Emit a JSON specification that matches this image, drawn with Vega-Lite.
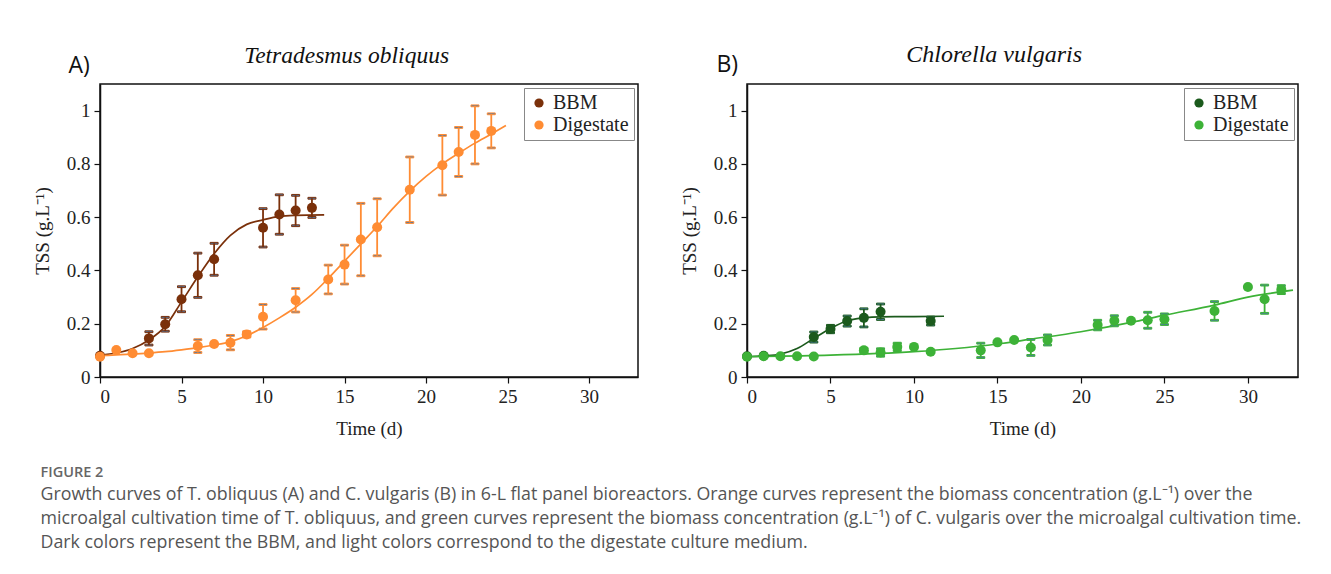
{
  "$schema": "https://vega.github.io/schema/vega-lite/v6.json",
  "background": "white",
  "padding": {"left": 32, "top": 42, "right": 5, "bottom": 5},
  "datasets": {
    "a_pts": [
      {"medium": "BBM", "t": 0, "v": 0.08},
      {"medium": "BBM", "t": 3, "v": 0.145, "lo": 0.12, "hi": 0.17},
      {"medium": "BBM", "t": 4, "v": 0.198, "lo": 0.172, "hi": 0.224},
      {"medium": "BBM", "t": 5, "v": 0.292, "lo": 0.245, "hi": 0.339},
      {"medium": "BBM", "t": 6, "v": 0.382, "lo": 0.299, "hi": 0.465},
      {"medium": "BBM", "t": 7, "v": 0.442, "lo": 0.382, "hi": 0.502},
      {"medium": "BBM", "t": 10, "v": 0.56, "lo": 0.488, "hi": 0.632},
      {"medium": "BBM", "t": 11, "v": 0.61, "lo": 0.536, "hi": 0.684},
      {"medium": "BBM", "t": 12, "v": 0.625, "lo": 0.568, "hi": 0.682},
      {"medium": "BBM", "t": 13, "v": 0.635, "lo": 0.599, "hi": 0.671},
      {"medium": "Digestate", "t": 0, "v": 0.076},
      {"medium": "Digestate", "t": 1, "v": 0.101},
      {"medium": "Digestate", "t": 2, "v": 0.089},
      {"medium": "Digestate", "t": 3, "v": 0.089},
      {"medium": "Digestate", "t": 6, "v": 0.116, "lo": 0.092, "hi": 0.14},
      {"medium": "Digestate", "t": 7, "v": 0.124},
      {"medium": "Digestate", "t": 8, "v": 0.129, "lo": 0.102, "hi": 0.156},
      {"medium": "Digestate", "t": 9, "v": 0.16, "lo": 0.15, "hi": 0.17},
      {"medium": "Digestate", "t": 10, "v": 0.226, "lo": 0.18, "hi": 0.272},
      {"medium": "Digestate", "t": 12, "v": 0.288, "lo": 0.244, "hi": 0.332},
      {"medium": "Digestate", "t": 14, "v": 0.366, "lo": 0.312, "hi": 0.42},
      {"medium": "Digestate", "t": 15, "v": 0.422, "lo": 0.349, "hi": 0.495},
      {"medium": "Digestate", "t": 16, "v": 0.516, "lo": 0.38, "hi": 0.652},
      {"medium": "Digestate", "t": 17, "v": 0.562, "lo": 0.455, "hi": 0.669},
      {"medium": "Digestate", "t": 19, "v": 0.703, "lo": 0.58, "hi": 0.826},
      {"medium": "Digestate", "t": 21, "v": 0.795, "lo": 0.683, "hi": 0.907},
      {"medium": "Digestate", "t": 22, "v": 0.845, "lo": 0.753, "hi": 0.937},
      {"medium": "Digestate", "t": 23, "v": 0.909, "lo": 0.8, "hi": 1.018},
      {"medium": "Digestate", "t": 24, "v": 0.924, "lo": 0.86, "hi": 0.988}
    ],
    "a_fit": [
      {"medium": "BBM", "t": 0, "v": 0.082},
      {"medium": "BBM", "t": 1, "v": 0.09},
      {"medium": "BBM", "t": 2, "v": 0.107},
      {"medium": "BBM", "t": 3, "v": 0.139},
      {"medium": "BBM", "t": 4, "v": 0.19},
      {"medium": "BBM", "t": 5, "v": 0.282},
      {"medium": "BBM", "t": 6, "v": 0.376},
      {"medium": "BBM", "t": 7, "v": 0.463},
      {"medium": "BBM", "t": 8, "v": 0.532},
      {"medium": "BBM", "t": 9, "v": 0.573},
      {"medium": "BBM", "t": 10, "v": 0.59},
      {"medium": "BBM", "t": 11, "v": 0.603},
      {"medium": "BBM", "t": 12, "v": 0.607},
      {"medium": "BBM", "t": 13.75, "v": 0.609},
      {"medium": "Digestate", "t": 0, "v": 0.08},
      {"medium": "Digestate", "t": 1, "v": 0.083},
      {"medium": "Digestate", "t": 2, "v": 0.086},
      {"medium": "Digestate", "t": 3, "v": 0.09},
      {"medium": "Digestate", "t": 4, "v": 0.095},
      {"medium": "Digestate", "t": 5, "v": 0.102},
      {"medium": "Digestate", "t": 6, "v": 0.11},
      {"medium": "Digestate", "t": 7, "v": 0.12},
      {"medium": "Digestate", "t": 8, "v": 0.133},
      {"medium": "Digestate", "t": 9, "v": 0.155},
      {"medium": "Digestate", "t": 10, "v": 0.186},
      {"medium": "Digestate", "t": 11, "v": 0.222},
      {"medium": "Digestate", "t": 12, "v": 0.262},
      {"medium": "Digestate", "t": 13, "v": 0.31},
      {"medium": "Digestate", "t": 14, "v": 0.37},
      {"medium": "Digestate", "t": 15, "v": 0.435},
      {"medium": "Digestate", "t": 16, "v": 0.5},
      {"medium": "Digestate", "t": 17, "v": 0.565},
      {"medium": "Digestate", "t": 18, "v": 0.635},
      {"medium": "Digestate", "t": 19, "v": 0.698},
      {"medium": "Digestate", "t": 20, "v": 0.753},
      {"medium": "Digestate", "t": 21, "v": 0.8},
      {"medium": "Digestate", "t": 22, "v": 0.84},
      {"medium": "Digestate", "t": 23, "v": 0.878},
      {"medium": "Digestate", "t": 24, "v": 0.912},
      {"medium": "Digestate", "t": 24.9, "v": 0.944}
    ],
    "b_pts": [
      {"medium": "BBM", "t": 0, "v": 0.078},
      {"medium": "BBM", "t": 1, "v": 0.08},
      {"medium": "BBM", "t": 4, "v": 0.15, "lo": 0.131, "hi": 0.169},
      {"medium": "BBM", "t": 5, "v": 0.18, "lo": 0.166, "hi": 0.194},
      {"medium": "BBM", "t": 6, "v": 0.21, "lo": 0.191, "hi": 0.229},
      {"medium": "BBM", "t": 7, "v": 0.222, "lo": 0.188, "hi": 0.256},
      {"medium": "BBM", "t": 8, "v": 0.245, "lo": 0.216, "hi": 0.274},
      {"medium": "BBM", "t": 11, "v": 0.21, "lo": 0.195, "hi": 0.225},
      {"medium": "Digestate", "t": 0, "v": 0.076},
      {"medium": "Digestate", "t": 1, "v": 0.078},
      {"medium": "Digestate", "t": 2, "v": 0.078},
      {"medium": "Digestate", "t": 3, "v": 0.078},
      {"medium": "Digestate", "t": 4, "v": 0.077},
      {"medium": "Digestate", "t": 7, "v": 0.1, "lo": 0.092, "hi": 0.108},
      {"medium": "Digestate", "t": 8, "v": 0.092, "lo": 0.078, "hi": 0.106},
      {"medium": "Digestate", "t": 9, "v": 0.113, "lo": 0.099, "hi": 0.127},
      {"medium": "Digestate", "t": 10, "v": 0.113},
      {"medium": "Digestate", "t": 11, "v": 0.095},
      {"medium": "Digestate", "t": 14, "v": 0.1, "lo": 0.073, "hi": 0.127},
      {"medium": "Digestate", "t": 15, "v": 0.13},
      {"medium": "Digestate", "t": 16, "v": 0.139},
      {"medium": "Digestate", "t": 17, "v": 0.111, "lo": 0.081, "hi": 0.141},
      {"medium": "Digestate", "t": 18, "v": 0.139, "lo": 0.12, "hi": 0.158},
      {"medium": "Digestate", "t": 21, "v": 0.195, "lo": 0.177, "hi": 0.213},
      {"medium": "Digestate", "t": 22, "v": 0.211, "lo": 0.192, "hi": 0.23},
      {"medium": "Digestate", "t": 23, "v": 0.211},
      {"medium": "Digestate", "t": 24, "v": 0.213, "lo": 0.183, "hi": 0.243},
      {"medium": "Digestate", "t": 25, "v": 0.217, "lo": 0.197, "hi": 0.237},
      {"medium": "Digestate", "t": 28, "v": 0.248, "lo": 0.213, "hi": 0.283},
      {"medium": "Digestate", "t": 30, "v": 0.338},
      {"medium": "Digestate", "t": 31, "v": 0.292, "lo": 0.239, "hi": 0.345},
      {"medium": "Digestate", "t": 32, "v": 0.328, "lo": 0.313, "hi": 0.343}
    ],
    "b_fit": [
      {"medium": "BBM", "t": 0, "v": 0.076},
      {"medium": "BBM", "t": 1, "v": 0.079},
      {"medium": "BBM", "t": 2, "v": 0.086},
      {"medium": "BBM", "t": 3, "v": 0.107},
      {"medium": "BBM", "t": 4, "v": 0.145},
      {"medium": "BBM", "t": 5, "v": 0.182},
      {"medium": "BBM", "t": 6, "v": 0.211},
      {"medium": "BBM", "t": 7, "v": 0.222},
      {"medium": "BBM", "t": 8, "v": 0.226},
      {"medium": "BBM", "t": 10, "v": 0.227},
      {"medium": "BBM", "t": 11.8, "v": 0.228},
      {"medium": "Digestate", "t": 0, "v": 0.077},
      {"medium": "Digestate", "t": 5, "v": 0.082},
      {"medium": "Digestate", "t": 10, "v": 0.095},
      {"medium": "Digestate", "t": 12.5, "v": 0.107},
      {"medium": "Digestate", "t": 15, "v": 0.124},
      {"medium": "Digestate", "t": 17, "v": 0.142},
      {"medium": "Digestate", "t": 20, "v": 0.17},
      {"medium": "Digestate", "t": 23, "v": 0.205},
      {"medium": "Digestate", "t": 25, "v": 0.232},
      {"medium": "Digestate", "t": 28, "v": 0.27},
      {"medium": "Digestate", "t": 30, "v": 0.3},
      {"medium": "Digestate", "t": 32.7, "v": 0.326}
    ]
  },
  "title": {
    "text": "FIGURE 2",
    "subtitle": [
      "Growth curves of T. obliquus (A) and C. vulgaris (B) in 6-L flat panel bioreactors. Orange curves represent the biomass concentration (g.L⁻¹) over the",
      "microalgal cultivation time of T. obliquus, and green curves represent the biomass concentration (g.L⁻¹) of C. vulgaris over the microalgal cultivation time.",
      "Dark colors represent the BBM, and light colors correspond to the digestate culture medium."
    ],
    "orient": "bottom",
    "anchor": "start",
    "frame": "bounds",
    "dx": 8,
    "font": "Open Sans",
    "fontSize": 14.5,
    "fontWeight": 600,
    "color": "#666666",
    "subtitleFont": "Open Sans",
    "subtitleFontSize": 17.8,
    "subtitleColor": "#555555",
    "subtitleLineHeight": 24,
    "subtitlePadding": 6,
    "offset": 27
  },
  "spacing": 40,
  "resolve": {"scale": {"color": "independent", "stroke": "independent"}, "legend": {"color": "independent"}},
  "hconcat": [
    {
      "title": {"text": "A)", "anchor": "start", "frame": "bounds", "font": "Open Sans", "fontSize": 23, "fontWeight": "normal", "color": "#111111", "dx": 36, "dy": 39},
      "resolve": {"scale": {"color": "independent", "stroke": "independent"}, "legend": {"color": "independent"}},
      "vconcat": [
        {
          "title": {"text": "Tetradesmus obliquus", "anchor": "middle", "frame": "bounds", "dx": 11, "font": "Liberation Serif", "fontStyle": "italic", "fontSize": 23.5, "fontWeight": "normal", "color": "#111111", "offset": 17},
          "width": 538,
          "height": 293,
          "layer": [
            {
              "data": {"name": "a_fit"},
              "mark": {"type": "line", "strokeWidth": 1.7, "interpolate": "monotone"},
              "encoding": {
                "x": {"field": "t", "type": "quantitative", "title": "Time (d)", "scale": {"domain": [0, 33], "nice": false}, "axis": {"values": [0, 5, 10, 15, 20, 25, 30]}},
                "y": {"field": "v", "type": "quantitative", "title": "TSS (g.L⁻¹)", "scale": {"domain": [0, 1.1], "nice": false}, "axis": {"values": [0, 0.2, 0.4, 0.6, 0.8, 1], "format": "~g"}},
                "stroke": {"field": "medium", "type": "nominal", "scale": {"range": ["#7a300a", "#ff8c33"]}, "legend": null}
              }
            },
            {
              "data": {"name": "a_pts"},
              "transform": [{"filter": "isValid(datum.lo)"}],
              "mark": {"type": "errorbar", "ticks": {"opacity": 1}, "rule": {"opacity": 1}, "size": 8, "thickness": 1.8},
              "encoding": {
                "x": {"field": "t", "type": "quantitative", "title": "Time (d)"},
                "y": {"field": "lo", "type": "quantitative", "title": "TSS (g.L⁻¹)"},
                "y2": {"field": "hi"},
                "stroke": {"field": "medium", "type": "nominal", "legend": null}
              }
            },
            {
              "data": {"name": "a_pts"},
              "mark": {"type": "point", "filled": true, "size": 100, "opacity": 1, "strokeWidth": 0},
              "encoding": {
                "x": {"field": "t", "type": "quantitative", "title": "Time (d)"},
                "y": {"field": "v", "type": "quantitative", "title": "TSS (g.L⁻¹)"},
                "color": {"field": "medium", "type": "nominal", "scale": {"domain": ["BBM", "Digestate"], "range": ["#7a300a", "#ff8c33"]}, "legend": {"title": null}}
              }
            }
          ]
        }
      ]
    },
    {
      "title": {"text": "B)", "anchor": "start", "frame": "bounds", "font": "Open Sans", "fontSize": 23, "fontWeight": "normal", "color": "#111111", "dx": 37, "dy": 39},
      "resolve": {"scale": {"color": "independent", "stroke": "independent"}, "legend": {"color": "independent"}},
      "vconcat": [
        {
          "title": {"text": "Chlorella vulgaris", "anchor": "middle", "frame": "bounds", "dx": 5, "font": "Liberation Serif", "fontStyle": "italic", "fontSize": 24, "fontWeight": "normal", "color": "#111111", "offset": 17},
          "width": 551,
          "height": 293,
          "layer": [
            {
              "data": {"name": "b_fit"},
              "mark": {"type": "line", "strokeWidth": 1.7, "interpolate": "monotone"},
              "encoding": {
                "x": {"field": "t", "type": "quantitative", "title": "Time (d)", "scale": {"domain": [0, 33], "nice": false}, "axis": {"values": [0, 5, 10, 15, 20, 25, 30]}},
                "y": {"field": "v", "type": "quantitative", "title": "TSS (g.L⁻¹)", "scale": {"domain": [0, 1.1], "nice": false}, "axis": {"values": [0, 0.2, 0.4, 0.6, 0.8, 1], "format": "~g"}},
                "stroke": {"field": "medium", "type": "nominal", "scale": {"range": ["#1b5a1c", "#3db237"]}, "legend": null}
              }
            },
            {
              "data": {"name": "b_pts"},
              "transform": [{"filter": "isValid(datum.lo)"}],
              "mark": {"type": "errorbar", "ticks": {"opacity": 1}, "rule": {"opacity": 1}, "size": 8, "thickness": 1.8},
              "encoding": {
                "x": {"field": "t", "type": "quantitative", "title": "Time (d)"},
                "y": {"field": "lo", "type": "quantitative", "title": "TSS (g.L⁻¹)"},
                "y2": {"field": "hi"},
                "stroke": {"field": "medium", "type": "nominal", "legend": null}
              }
            },
            {
              "data": {"name": "b_pts"},
              "mark": {"type": "point", "filled": true, "size": 100, "opacity": 1, "strokeWidth": 0},
              "encoding": {
                "x": {"field": "t", "type": "quantitative", "title": "Time (d)"},
                "y": {"field": "v", "type": "quantitative", "title": "TSS (g.L⁻¹)"},
                "color": {"field": "medium", "type": "nominal", "scale": {"domain": ["BBM", "Digestate"], "range": ["#1b5a1c", "#3db237"]}, "legend": {"title": null}}
              }
            }
          ]
        }
      ]
    }
  ],
  "config": {
    "view": {"stroke": "#111111", "strokeWidth": 1.5},
    "axis": {
      "grid": false,
      "domainColor": "#111111",
      "domainWidth": 1.5,
      "tickColor": "#111111",
      "tickWidth": 1.2,
      "tickSize": 6,
      "labelFont": "Liberation Serif",
      "labelFontSize": 19,
      "labelColor": "#222222",
      "labelPadding": 4,
      "titleFont": "Liberation Serif",
      "titleFontSize": 19,
      "titleFontWeight": "normal",
      "titleColor": "#222222"
    },
    "axisY": {"titlePadding": 14},
    "axisX": {"titlePadding": 13},
    "legend": {
      "orient": "top-right",
      "offset": 4,
      "strokeColor": "#888888",
      "fillColor": "white",
      "padding": 5,
      "labelFont": "Liberation Serif",
      "labelFontSize": 20,
      "labelColor": "#222222",
      "labelOffset": 4,
      "symbolType": "circle",
      "symbolSize": 85,
      "symbolStrokeWidth": 0,
      "rowPadding": 2
    }
  }
}
